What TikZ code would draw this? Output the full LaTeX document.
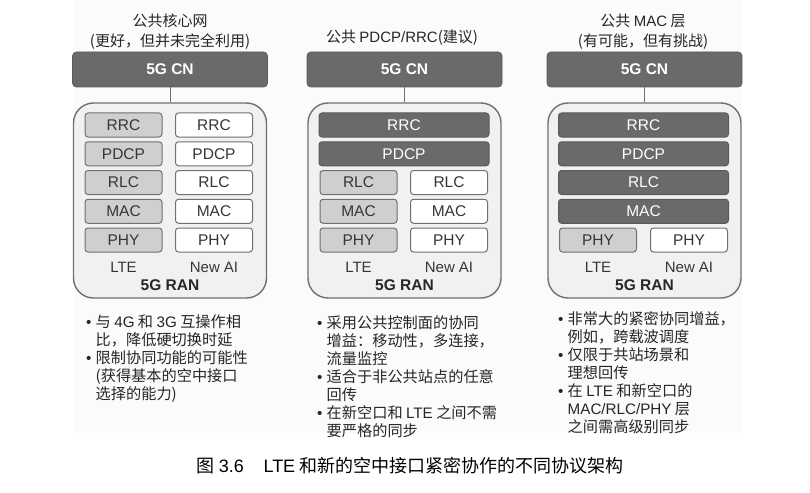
\documentclass[tikz,border=0pt]{standalone}
\usepackage{fontspec}
\setmainfont{Liberation Sans}
\newfontfamily\cjk{Noto Sans CJK SC}
\newfontfamily\lat{Liberation Sans}
\usepackage{tikz}

\definecolor{darkfill}{HTML}{6A6A6A}
\definecolor{ltefill}{HTML}{CFCFCF}
\definecolor{ranfill}{HTML}{F1F1F1}
\definecolor{boxline}{HTML}{707070}
\definecolor{txtgray}{HTML}{363636}
\definecolor{pagebg}{HTML}{FCFBFA}

\newcommand{\bul}{\makebox[9.5pt][l]{\lat •}}
\newcommand{\ind}{\hspace*{9.5pt}}

\begin{document}
\begin{tikzpicture}[x=1pt,y=1pt,node distance=28.75pt]
        \tikzset{
            cnbox/.style = {rectangle, rounded corners=4pt, line width=0.8pt, draw=darkfill!85!black, fill=darkfill, minimum width=195pt, minimum height=35pt, text=white, font=\fontsize{15.5}{18}\selectfont\bfseries},
            ranbox/.style = {rectangle, rounded corners=20pt, line width=1.4pt, draw=boxline, fill=ranfill, minimum width=193pt, minimum height=195pt},
            ltebox/.style = {rectangle, rounded corners=3pt, line width=1pt, draw=boxline, fill=ltefill, minimum width=77pt, minimum height=24pt, inner sep=0pt, text=txtgray, font=\fontsize{15.5}{16}\selectfont},
            aibox/.style = {ltebox, fill=white},
            widebox/.style = {ltebox, draw=darkfill!85!black, fill=darkfill, minimum width=170pt, text=white},
            coltext/.style = {inner sep=0pt, text=txtgray, font=\fontsize{15}{16}\selectfont},
            rantext/.style = {inner sep=0pt, text=black!85, font=\fontsize{15.5}{18}\selectfont\bfseries},
            titletext/.style = {inner sep=0pt, align=center, text=black!85, font=\cjk\fontsize{15}{20}\selectfont},
            notetext/.style = {inner sep=0pt, anchor=north west, align=left, text=black!85, font=\cjk\fontsize{15.2}{18}\selectfont},
            link/.style = {line width=1pt, draw=boxline}
        }
        \useasboundingbox (0,0) rectangle (810,-492);
        \fill [pagebg] (73,0) rectangle (742,-433);

        % common core network
        \node (title1) [titletext] at (170,-32) {公共核心网\\(更好，但并未完全利用)};
        \node (cn1) [cnbox] at (170,-69.5) {5G CN};
        \node (ran1) [ranbox] at (170,-200.5) {};
        \draw [link] (cn1) -- (ran1);
        \node (rrc1a) [ltebox] at (123.5,-125) {RRC};
        \node (pdcp1a) [ltebox, below of=rrc1a] {PDCP};
        \node (rlc1a) [ltebox, below of=pdcp1a] {RLC};
        \node (mac1a) [ltebox, below of=rlc1a] {MAC};
        \node (phy1a) [ltebox, below of=mac1a] {PHY};
        \node (rrc1b) [aibox] at (214,-125) {RRC};
        \node (pdcp1b) [aibox, below of=rrc1b] {PDCP};
        \node (rlc1b) [aibox, below of=pdcp1b] {RLC};
        \node (mac1b) [aibox, below of=rlc1b] {MAC};
        \node (phy1b) [aibox, below of=mac1b] {PHY};
        \node (lte1) [coltext] at (123.5,-267) {LTE};
        \node (nai1) [coltext] at (214,-267) {New AI};
        \node (ranlbl1) [rantext] at (170,-285) {5G RAN};
        \node (notes1) [notetext] at (86,-315) {\bul 与 {\lat 4G} 和 {\lat 3G} 互操作相\\ \ind 比，降低硬切换时延\\ \bul 限制协同功能的可能性\\ \ind (获得基本的空中接口\\ \ind 选择的能力)};

        % common PDCP/RRC
        \node (title2) [titletext] at (402,-38) {公共 {\lat PDCP/RRC}(建议)};
        \node (cn2) [cnbox] at (404.5,-69.5) {5G CN};
        \node (ran2) [ranbox] at (404.5,-200.5) {};
        \draw [link] (cn2) -- (ran2);
        \node (rrc2) [widebox] at (404,-125) {RRC};
        \node (pdcp2) [widebox, below of=rrc2] {PDCP};
        \node (rlc2a) [ltebox] at (358.5,-182.5) {RLC};
        \node (mac2a) [ltebox, below of=rlc2a] {MAC};
        \node (phy2a) [ltebox, below of=mac2a] {PHY};
        \node (rlc2b) [aibox] at (449,-182.5) {RLC};
        \node (mac2b) [aibox, below of=rlc2b] {MAC};
        \node (phy2b) [aibox, below of=mac2b] {PHY};
        \node (lte2) [coltext] at (358.5,-267) {LTE};
        \node (nai2) [coltext] at (449,-267) {New AI};
        \node (ranlbl2) [rantext] at (404.5,-285) {5G RAN};
        \node (notes2) [notetext] at (317,-315) {\bul 采用公共控制面的协同\\ \ind 增益：移动性，多连接，\\ \ind 流量监控\\ \bul 适合于非公共站点的任意\\ \ind 回传\\ \bul 在新空口和 {\lat LTE} 之间不需\\ \ind 要严格的同步};

        % common MAC
        \node (title3) [titletext] at (643,-32) {公共 {\lat MAC} 层\\(有可能，但有挑战)};
        \node (cn3) [cnbox] at (644.5,-69.5) {5G CN};
        \node (ran3) [ranbox] at (644.5,-200.5) {};
        \draw [link] (cn3) -- (ran3);
        \node (rrc3) [widebox] at (643.5,-125) {RRC};
        \node (pdcp3) [widebox, below of=rrc3] {PDCP};
        \node (rlc3) [widebox, below of=pdcp3] {RLC};
        \node (mac3) [widebox, below of=rlc3] {MAC};
        \node (phy3a) [ltebox] at (598,-240) {PHY};
        \node (phy3b) [aibox] at (689,-240) {PHY};
        \node (lte3) [coltext] at (598,-267) {LTE};
        \node (nai3) [coltext] at (689,-267) {New AI};
        \node (ranlbl3) [rantext] at (644.5,-285) {5G RAN};
        \node (notes3) [notetext] at (558,-311) {\bul 非常大的紧密协同增益，\\ \ind 例如，跨载波调度\\ \bul 仅限于共站场景和\\ \ind 理想回传\\ \bul 在 {\lat LTE} 和新空口的\\ \ind {\lat MAC/RLC/PHY} 层\\ \ind 之间需高级别同步};

        \node (caption) [inner sep=0pt, font=\cjk\fontsize{18}{20}\selectfont] at (410,-466) {图 {\lat 3.6}\hspace{1.1em}{\lat LTE} 和新的空中接口紧密协作的不同协议架构};

    \end{tikzpicture}
\end{document}
